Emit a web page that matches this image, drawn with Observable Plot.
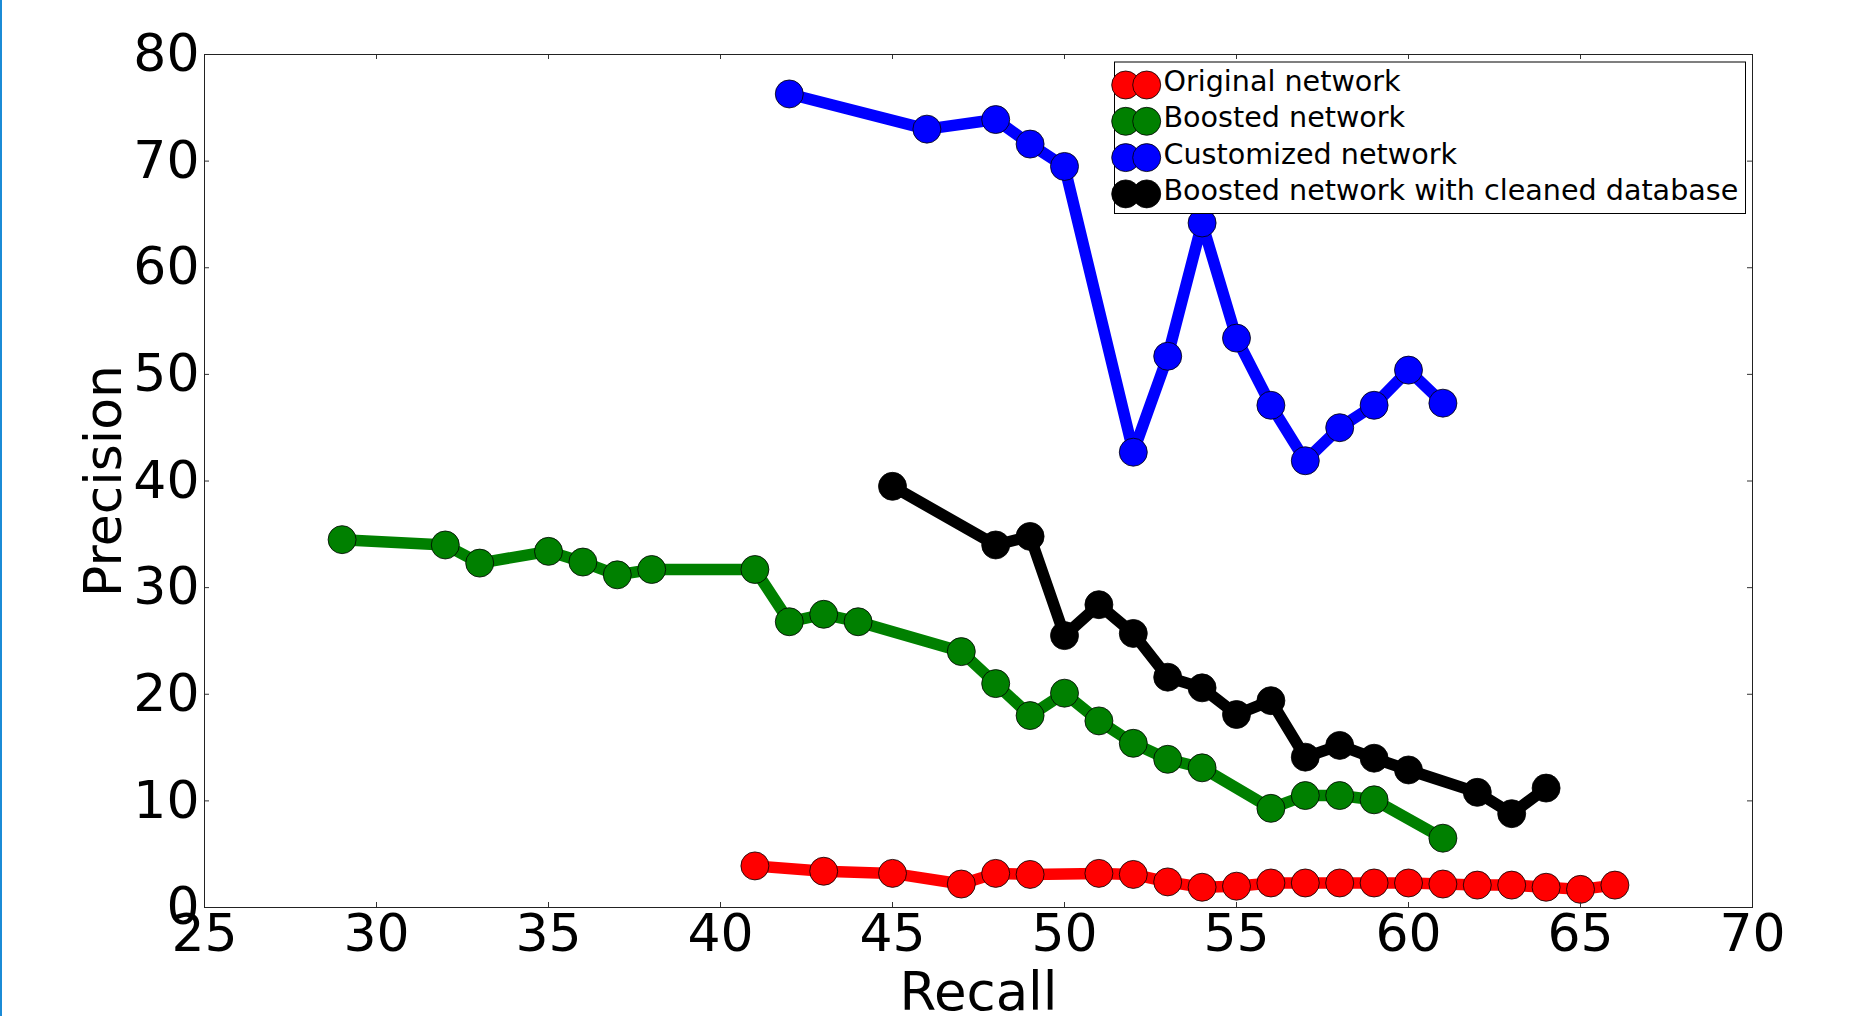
<!DOCTYPE html>
<html>
<head>
<meta charset="utf-8">
<script src="https://cdn.jsdelivr.net/npm/d3@7"></script>
<script src="https://cdn.jsdelivr.net/npm/@observablehq/plot@0.6"></script>
<style>
html, body { margin: 0; padding: 0; background: #fff; }
#chart { position: relative; width: 1849px; height: 1016px; overflow: hidden; background: #fff; }
#chart svg { display: block; }
#edge { position: absolute; left: 0; top: 0; width: 2px; height: 1016px; background: #1b8bd6; z-index: 2; }
</style>
</head>
<body>
<div id="chart"><div id="edge"></div></div>
<script>
// ---- data ----
const seriesNames = ["Original network", "Boosted network", "Customized network", "Boosted network with cleaned database"];
const seriesColors = ["#ff0000", "#008000", "#0000ff", "#000000"];

const originalRecall    = [41, 43, 45, 47, 48, 49, 51, 52, 53, 54, 55, 56, 57, 58, 59, 60, 61, 62, 63, 64, 65, 66];
const originalPrecision = [3.9, 3.4, 3.2, 2.2, 3.2, 3.1, 3.2, 3.1, 2.4, 1.9, 2.0, 2.3, 2.3, 2.3, 2.3, 2.3, 2.2, 2.1, 2.1, 1.9, 1.7, 2.1];

const boostedRecall    = [29, 32, 33, 35, 36, 37, 38, 41, 42, 43, 44, 47, 48, 49, 50, 51, 52, 53, 54, 56, 57, 58, 59, 61];
const boostedPrecision = [34.5, 34.0, 32.3, 33.4, 32.4, 31.2, 31.7, 31.7, 26.8, 27.5, 26.8, 24.0, 21.0, 18.0, 20.1, 17.5, 15.4, 13.9, 13.1, 9.3, 10.5, 10.5, 10.1, 6.5];

const customizedRecall    = [42, 46, 48, 49, 50, 52, 53, 54, 55, 56, 57, 58, 59, 60, 61];
const customizedPrecision = [76.3, 73.0, 73.9, 71.6, 69.5, 42.7, 51.7, 64.2, 53.4, 47.1, 41.9, 45.0, 47.1, 50.4, 47.3];

const cleanedRecall    = [45, 48, 49, 50, 51, 52, 53, 54, 55, 56, 57, 58, 59, 60, 62, 63, 64];
const cleanedPrecision = [39.5, 34.0, 34.8, 25.5, 28.4, 25.7, 21.6, 20.6, 18.1, 19.4, 14.1, 15.2, 14.0, 12.9, 10.8, 8.8, 11.2];

const xTicks = [25, 30, 35, 40, 45, 50, 55, 60, 65, 70];
const yTicks = [0, 10, 20, 30, 40, 50, 60, 70, 80];
const xLabel = "Recall";
const yLabel = "Precision";

// ---- build tables ----
const recalls = [originalRecall, boostedRecall, customizedRecall, cleanedRecall];
const precisions = [originalPrecision, boostedPrecision, customizedPrecision, cleanedPrecision];
const tables = seriesNames.map((name, i) =>
  recalls[i].map((r, j) => ({series: name, recall: r, precision: precisions[i][j]}))
);

// ---- layout ----
const W = 1849, H = 1016;
const mL = 204, mR = 97, mT = 54, mB = 109;
const frameW = W - mL - mR, frameH = H - mT - mB;
const tickLen = 5;
const font = "DejaVu Sans";

const seriesMarks = tables.flatMap((t, i) => [
  Plot.line(t, {x: "recall", y: "precision", stroke: seriesColors[i], strokeWidth: 11.5, strokeLinejoin: "round", strokeLinecap: "round"}),
  Plot.dot(t, {x: "recall", y: "precision", r: 14, fill: seriesColors[i], stroke: "#000", strokeWidth: 0.8})
]);

const chart = Plot.plot({
  width: W, height: H,
  marginLeft: mL, marginRight: mR, marginTop: mT, marginBottom: mB,
  x: {domain: [25, 70], label: null},
  y: {domain: [0, 80], label: null},
  style: {fontFamily: font, fontSize: "52px", color: "#000", background: "#fff", overflow: "visible"},
  marks: [
    ...seriesMarks,
    // inward ticks on all four sides
    Plot.ruleX(xTicks, {x: d => d, insetTop: frameH - tickLen, stroke: "#333", strokeWidth: 1}),
    Plot.ruleX(xTicks, {x: d => d, insetBottom: frameH - tickLen, stroke: "#333", strokeWidth: 1}),
    Plot.ruleY(yTicks, {y: d => d, insetRight: frameW - tickLen, stroke: "#333", strokeWidth: 1}),
    Plot.ruleY(yTicks, {y: d => d, insetLeft: frameW - tickLen, stroke: "#333", strokeWidth: 1}),
    Plot.frame({stroke: "#222", strokeWidth: 1}),
    Plot.axisX({ticks: xTicks, tickSize: 0, tickPadding: 7, fontSize: 52, fontFamily: font, tickFormat: d => String(d), label: null}),
    Plot.axisY({ticks: yTicks, tickSize: 0, tickPadding: 5, fontSize: 52, fontFamily: font, tickFormat: d => String(d), label: null}),
    Plot.text([xLabel], {text: d => d, frameAnchor: "bottom", textAnchor: "middle", lineAnchor: "bottom", dy: 102, fontSize: 53, fontFamily: font, fill: "#000"}),
    Plot.text([yLabel], {text: d => d, frameAnchor: "left", textAnchor: "middle", lineAnchor: "bottom", rotate: -90, dx: -84, fontSize: 52, fontFamily: font, fill: "#000"})
  ]
});

document.getElementById("chart").appendChild(chart);

// ---- legend (inside the frame, top-right) ----
const svg = d3.select(chart);
const lg = svg.append("g").attr("class", "legend").attr("text-anchor", "start");
const box = {x: 1114, y: 61.5, w: 631, h: 151.5};
const rowY0 = 85, rowStep = 36.3;
const cx = [1125.7, 1146.7];
lg.append("rect")
  .attr("x", box.x + 0.5).attr("y", box.y + 0.5)
  .attr("width", box.w).attr("height", box.h)
  .attr("fill", "#fff").attr("stroke", "#000").attr("stroke-width", 1);
seriesNames.forEach((name, i) => {
  const cy = rowY0 + i * rowStep;
  cx.forEach(x => {
    lg.append("circle").attr("cx", x).attr("cy", cy).attr("r", 14)
      .attr("fill", seriesColors[i]).attr("stroke", "#000").attr("stroke-width", 0.8);
  });
  lg.append("text").attr("x", 1163.5).attr("y", cy + 6)
    .attr("text-anchor", "start")
    .attr("font-family", font).attr("font-size", 28.6).attr("fill", "#000")
    .text(name);
});
</script>
</body>
</html>
